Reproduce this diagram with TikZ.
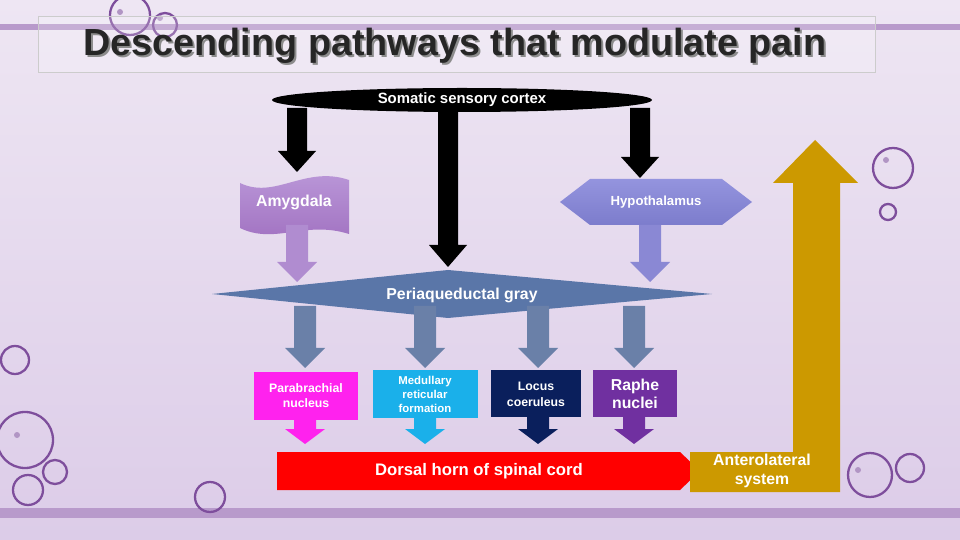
\documentclass[tikz,border=0pt]{standalone}
\usepackage{fontspec}
\setmainfont{Liberation Sans}
\begin{document}
\begin{tikzpicture}[x=0.02cm,y=-0.02cm,
  lbl/.style={text=white,font=\bfseries,align=center,inner sep=0pt},
  deco/.style={draw=decoc,line width=1.3pt}]
\newcommand\blockarr[7]{\fill[#7] ({#1-#4},#2) -- ({#1+#4},#2) -- ({#1+#4},{#3-#6}) -- ({#1+#5},{#3-#6}) -- (#1,#3) -- ({#1-#5},{#3-#6}) -- ({#1-#4},{#3-#6}) -- cycle;}
\definecolor{bgtop}{HTML}{EEE6F3}
\definecolor{bgbot}{HTML}{DCCCE8}
\definecolor{band}{HTML}{B89ACB}
\definecolor{decoc}{HTML}{7E4E9C}
\definecolor{steel}{HTML}{6A80A8}
\definecolor{pag}{HTML}{5A76A8}
\definecolor{gold}{HTML}{CC9900}
\definecolor{amyt}{HTML}{BC9ADA}
\definecolor{amyb}{HTML}{A070C0}
\definecolor{amya}{HTML}{B08CD0}
\definecolor{hypt}{HTML}{9494DE}
\definecolor{hypb}{HTML}{7C7CCC}
\definecolor{hypa}{HTML}{8A88D4}
\definecolor{magc}{HTML}{FF22EE}
\definecolor{medc}{HTML}{1AB0EA}
\definecolor{locc}{HTML}{0A1F5C}
\definecolor{raphc}{HTML}{7030A0}
\useasboundingbox (0,0) rectangle (960,540);
\shade[top color=bgtop,bottom color=bgbot] (0,0) rectangle (960,540);
\fill[band] (0,24) rectangle (960,30);
\fill[band] (0,508) rectangle (960,518);
% decorations
\foreach \cx/\cy/\r in {130/15/20,165/25/12,893/168/20,888/212/8,15/360/14,25/440/28,55/472/12,28/490/15,210/497/15,870/475/22,910/468/14}
  \draw[deco] (\cx,\cy) circle (\r);
\foreach \cx/\cy in {120/12,160/18,886/160,17/435,858/470}
  \fill[decoc!60] (\cx,\cy) circle (3);
% title
\draw[black!20,fill=white,fill opacity=0.2] (38,16) rectangle (875,72);
\node[font=\bfseries\fontsize{21.5}{24}\selectfont,text=black!45,inner sep=0] at (457,48) {Descending pathways that modulate pain};
\node[font=\bfseries\fontsize{21.5}{24}\selectfont,text=black!85,inner sep=0] (title) at (455,46) {Descending pathways that modulate pain};
% black ellipse
\fill[black] (462,100) ellipse (190 and 12);
\node[lbl,font=\bfseries\fontsize{8.5}{10}\selectfont] (ssc) at (462,100) {Somatic sensory cortex};
\blockarr{297}{108}{172}{10}{19}{21}{black}
\blockarr{640}{108}{178}{10}{19}{21}{black}
\blockarr{448}{110}{267}{10}{19}{22}{black}
% amygdala
\shade[top color=amyt,bottom color=amyb] (240,183) .. controls (275,200) and (305,165) .. (349,180) -- (349,234) .. controls (305,220) and (275,245) .. (240,228) -- cycle;
\node[lbl,font=\bfseries\fontsize{9}{10}\selectfont] (amy) at (294,202) {Amygdala};
% hypothalamus
\shade[top color=hypt,bottom color=hypb] (560,202) -- (590,179) -- (722,179) -- (752,202) -- (722,225) -- (590,225) -- cycle;
\node[lbl,font=\bfseries\fontsize{7.5}{9}\selectfont] (hyp) at (656,202) {Hypothalamus};
\blockarr{297}{225}{282}{11}{20}{20}{amya}
\blockarr{650}{225}{282}{11}{20}{20}{hypa}
% PAG
\fill[pag] (212,294) -- (448,270) -- (712,294) -- (448,318) -- cycle;
\node[lbl,font=\bfseries\fontsize{9}{10}\selectfont] (pag) at (462,295) {Periaqueductal gray};
\foreach \cx in {305,425,538,634} {\blockarr{\cx}{306}{368}{11}{20}{20}{steel}}
% boxes
\fill[magc] (254,372) rectangle (358,420);
\node[lbl,font=\bfseries\fontsize{7}{8.5}\selectfont] (para) at (306,396) {Parabrachial\\nucleus};
\fill[medc] (373,370) rectangle (478,418);
\node[lbl,font=\bfseries\fontsize{6.5}{8}\selectfont] (med) at (425,394) {Medullary\\reticular\\formation};
\fill[locc] (491,370) rectangle (581,417);
\node[lbl,font=\bfseries\fontsize{7}{9}\selectfont] (loc) at (536,394) {Locus\\coeruleus};
\fill[raphc] (593,370) rectangle (677,417);
\node[lbl,font=\bfseries\fontsize{9}{10.5}\selectfont] (raphe) at (635,394) {Raphe\\nuclei};
\blockarr{305}{418}{444}{11}{20}{15}{magc}
\blockarr{425}{417}{444}{11}{20}{15}{medc}
\blockarr{538}{416}{444}{11}{20}{15}{locc}
\blockarr{634}{416}{444}{11}{20}{15}{raphc}
% dorsal horn
\fill[red] (277,452) -- (680,452) -- (700,471) -- (680,490) -- (277,490) -- cycle;
\node[lbl,font=\bfseries\fontsize{9.5}{11}\selectfont] (dh) at (479,471) {Dorsal horn of spinal cord};
% anterolateral
\fill[gold] (690,452) -- (793,452) -- (793,183) -- (773,183) -- (815,140) -- (858,183) -- (840,183) -- (840,492) -- (690,492) -- cycle;
\node[lbl,font=\bfseries\fontsize{9}{10.5}\selectfont] (als) at (762,471) {Anterolateral\\system};
\end{tikzpicture}
\end{document}
